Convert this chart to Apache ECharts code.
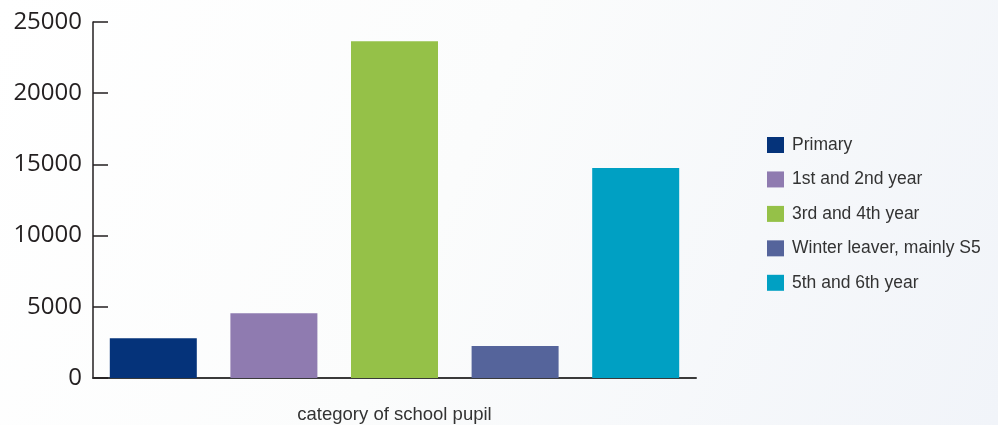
<!DOCTYPE html>
<html>
<head>
<meta charset="utf-8">
<script src="https://cdn.jsdelivr.net/npm/echarts@6/dist/echarts.min.js"></script>
<style>
html,body{margin:0;padding:0;background:#fbfcfc;}
#chart{width:998px;height:425px;}
</style>
</head>
<body>
<div id="chart"></div>
<script>
const categories = ['Primary', '1st and 2nd year', '3rd and 4th year', 'Winter leaver, mainly S5', '5th and 6th year'];
const values = [2800, 4550, 23650, 2250, 14750];
const colors = ['#05337a', '#8f7bb0', '#95c148', '#55649b', '#00a0c3'];
const yTicks = [0, 5000, 10000, 15000, 20000, 25000];
const xAxisName = 'category of school pupil';

const chart = echarts.init(document.getElementById('chart'), null, {renderer: 'canvas'});

const series = categories.map((name, i) => ({
  name: name,
  type: 'bar',
  stack: 'all',
  barWidth: 87,
  itemStyle: {color: colors[i]},
  data: categories.map((c, j) => (j === i ? values[i] : '-'))
}));

chart.setOption({
  backgroundColor: new echarts.graphic.LinearGradient(0, 0, 1, 1, [
    {offset: 0, color: '#ffffff'},
    {offset: 0.45, color: '#fbfcfc'},
    {offset: 1, color: '#f1f4f9'}
  ]),
  animation: false,
  grid: {left: 93, right: 302, top: 22, bottom: 47, containLabel: false, outerBoundsMode: 'none'},
  legend: {
    orient: 'vertical',
    left: 767,
    top: 136,
    padding: 0,
    itemWidth: 17,
    itemHeight: 16,
    itemGap: 16.45,
    icon: 'rect',
    textStyle: {fontFamily: 'Liberation Sans', fontSize: 17.5, color: '#333333', padding: [0, 0, 0, 3]},
    data: categories
  },
  xAxis: {
    type: 'category',
    data: categories,
    boundaryGap: true,
    name: xAxisName,
    nameLocation: 'middle',
    nameGap: 27,
    nameTextStyle: {fontFamily: 'Liberation Sans', fontSize: 18.5, color: '#333333'},
    axisLine: {lineStyle: {color: '#3a3a3a', width: 2}},
    axisTick: {inside: true, length: 9, lineStyle: {color: '#3a3a3a', width: 1.5}, alignWithLabel: false},
    axisLabel: {show: false},
    splitLine: {show: false}
  },
  yAxis: {
    type: 'value',
    min: yTicks[0],
    max: yTicks[yTicks.length - 1],
    interval: yTicks[1] - yTicks[0],
    axisLine: {show: true, lineStyle: {color: '#231f20', width: 1.5}},
    axisTick: {show: true, inside: true, length: 15, lineStyle: {color: '#231f20', width: 1.5}},
    axisLabel: {fontFamily: 'Open Sans', fontSize: 24, color: '#231f20', margin: 11, formatter: v => String(v)},
    splitLine: {show: false}
  },
  series: series
});
</script>
</body>
</html>
